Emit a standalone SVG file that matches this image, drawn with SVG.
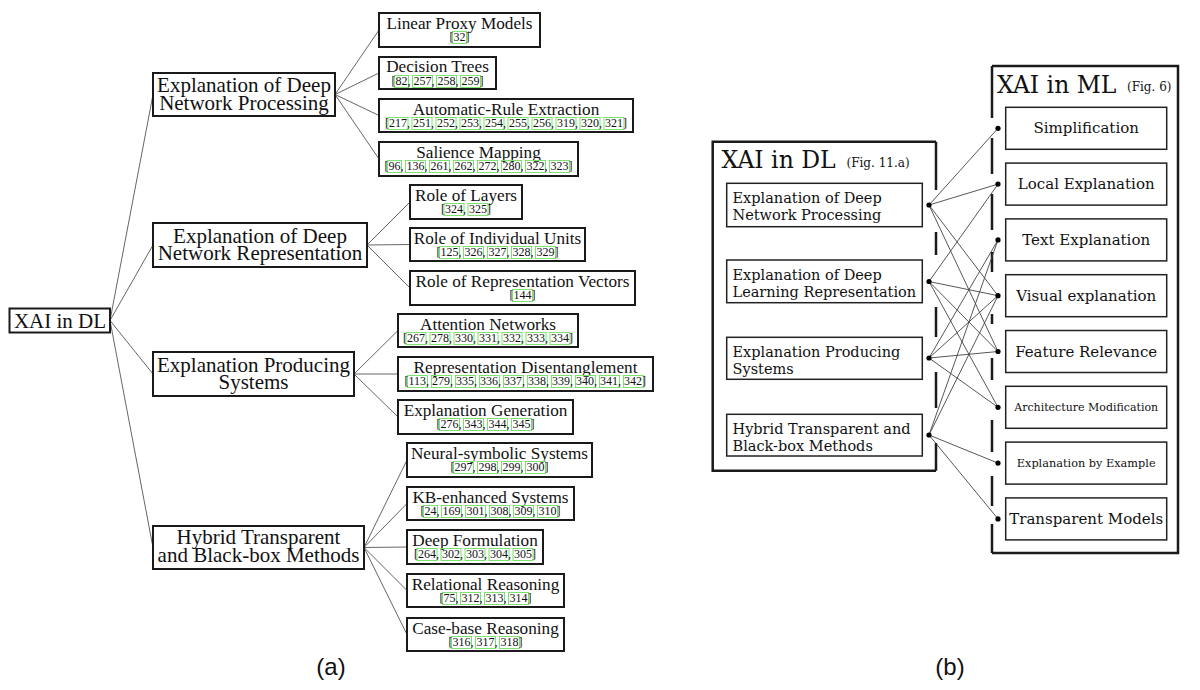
<svg xmlns="http://www.w3.org/2000/svg" width="1200" height="690" viewBox="0 0 1200 690">
<style>
.bg{fill:#fff}
.nb{fill:#fff;stroke:#1a1a1a;stroke-width:2}
.tr{font-family:"Liberation Serif",serif;fill:#111}
.root{font-size:21px;text-anchor:middle}
.br{font-size:21px;text-anchor:middle}
.lt{font-size:17.2px;text-anchor:middle}
.ct{font-size:12px}
.cb{fill:none;stroke:#7be36b;stroke-width:1}
.cn{stroke:#666;stroke-width:1;fill:none}
.cm{font-family:"DejaVu Serif",serif;fill:#111}
.ib{fill:#fff;stroke:#222;stroke-width:1.5}
.ob{fill:none;stroke:#1a1a1a;stroke-width:2.5}
.it{font-size:14.5px}
.mt{font-size:15px;text-anchor:middle}
.big{font-size:23.5px}
.fig{font-size:12px}
.bl{stroke:#444;stroke-width:0.9;fill:none}
.dot{fill:#000}
.lab{font-family:"Liberation Sans",sans-serif;font-size:24px;text-anchor:middle;fill:#111}
</style>
<rect class="bg" x="0" y="0" width="1200" height="690"/>

<!-- ===== Panel (a) connectors ===== -->
<g id="connectors-a">
<line class="cn" x1="110" y1="320.5" x2="153" y2="94.5"/>
<line class="cn" x1="110" y1="320.5" x2="153" y2="245"/>
<line class="cn" x1="110" y1="320.5" x2="153" y2="374"/>
<line class="cn" x1="110" y1="320.5" x2="153" y2="547.5"/>
<line class="cn" x1="335" y1="94.5" x2="379" y2="30"/>
<line class="cn" x1="335" y1="94.5" x2="379" y2="73"/>
<line class="cn" x1="335" y1="94.5" x2="379" y2="115.5"/>
<line class="cn" x1="335" y1="94.5" x2="379" y2="159"/>
<line class="cn" x1="367" y1="245" x2="410" y2="202"/>
<line class="cn" x1="367" y1="245" x2="410" y2="244.5"/>
<line class="cn" x1="367" y1="245" x2="410" y2="288"/>
<line class="cn" x1="354" y1="374" x2="398" y2="330.5"/>
<line class="cn" x1="354" y1="374" x2="398" y2="374"/>
<line class="cn" x1="354" y1="374" x2="398" y2="417"/>
<line class="cn" x1="364" y1="547.5" x2="407" y2="460"/>
<line class="cn" x1="364" y1="547.5" x2="407" y2="503.5"/>
<line class="cn" x1="364" y1="547.5" x2="407" y2="547"/>
<line class="cn" x1="364" y1="547.5" x2="407" y2="590.5"/>
<line class="cn" x1="364" y1="547.5" x2="407" y2="634.5"/>
</g>

<!-- root -->
<g id="root">
<rect class="nb" x="9.5" y="308.5" width="100.5" height="24"/>
<text class="tr root" x="60" y="328">XAI in DL</text>
</g>

<!-- branches -->
<g id="b-processing">
<rect class="nb" x="153" y="73" width="182" height="43"/>
<text class="tr br" x="244" y="92">Explanation of Deep</text>
<text class="tr br" x="244" y="110">Network Processing</text>
</g>
<g id="b-representation">
<rect class="nb" x="153" y="223" width="214" height="44"/>
<text class="tr br" x="260" y="242.5">Explanation of Deep</text>
<text class="tr br" x="260" y="260">Network Representation</text>
</g>
<g id="b-producing">
<rect class="nb" x="153" y="352" width="201" height="44"/>
<text class="tr br" x="253.5" y="371.5">Explanation Producing</text>
<text class="tr br" x="253.5" y="389">Systems</text>
</g>
<g id="b-hybrid">
<rect class="nb" x="153" y="526" width="211" height="43"/>
<text class="tr br" x="258.5" y="544">Hybrid Transparent</text>
<text class="tr br" x="258.5" y="561.5">and Black-box Methods</text>
</g>

<!-- leaves -->
<g id="l-linear-proxy">
<rect class="nb" x="379" y="13" width="161" height="34"/>
<text class="tr lt" x="459.5" y="28.5">Linear Proxy Models</text>
<rect class="cb" x="452.5" y="31.5" width="14" height="12"/>
<text class="tr ct" x="449.5" y="41">[32]</text>
</g>
<g id="l-decision-trees">
<rect class="nb" x="379" y="57" width="117" height="32"/>
<text class="tr lt" x="437.5" y="72">Decision Trees</text>
<rect class="cb" x="394.5" y="75.5" width="14" height="12"/>
<rect class="cb" x="412.5" y="75.5" width="20" height="12"/>
<rect class="cb" x="436.5" y="75.5" width="20" height="12"/>
<rect class="cb" x="460.5" y="75.5" width="20" height="12"/>
<text class="tr ct" x="391.5" y="85">[82, 257, 258, 259]</text>
</g>
<g id="l-rule-extraction">
<rect class="nb" x="379" y="99" width="254" height="33"/>
<text class="tr lt" x="506" y="114.5">Automatic-Rule Extraction</text>
<rect class="cb" x="388" y="117.5" width="20" height="12"/>
<rect class="cb" x="412" y="117.5" width="20" height="12"/>
<rect class="cb" x="436" y="117.5" width="20" height="12"/>
<rect class="cb" x="460" y="117.5" width="20" height="12"/>
<rect class="cb" x="484" y="117.5" width="20" height="12"/>
<rect class="cb" x="508" y="117.5" width="20" height="12"/>
<rect class="cb" x="532" y="117.5" width="20" height="12"/>
<rect class="cb" x="556" y="117.5" width="20" height="12"/>
<rect class="cb" x="580" y="117.5" width="20" height="12"/>
<rect class="cb" x="604" y="117.5" width="20" height="12"/>
<text class="tr ct" x="385" y="127">[217, 251, 252, 253, 254, 255, 256, 319, 320, 321]</text>
</g>
<g id="l-salience">
<rect class="nb" x="379" y="142" width="199" height="34"/>
<text class="tr lt" x="478.5" y="157.5">Salience Mapping</text>
<rect class="cb" x="387.5" y="160.5" width="14" height="12"/>
<rect class="cb" x="405.5" y="160.5" width="20" height="12"/>
<rect class="cb" x="429.5" y="160.5" width="20" height="12"/>
<rect class="cb" x="453.5" y="160.5" width="20" height="12"/>
<rect class="cb" x="477.5" y="160.5" width="20" height="12"/>
<rect class="cb" x="501.5" y="160.5" width="20" height="12"/>
<rect class="cb" x="525.5" y="160.5" width="20" height="12"/>
<rect class="cb" x="549.5" y="160.5" width="20" height="12"/>
<text class="tr ct" x="384.5" y="170">[96, 136, 261, 262, 272, 280, 322, 323]</text>
</g>
<g id="l-layers">
<rect class="nb" x="410" y="185" width="112" height="34"/>
<text class="tr lt" x="466" y="200.5">Role of Layers</text>
<rect class="cb" x="444" y="203.5" width="20" height="12"/>
<rect class="cb" x="468" y="203.5" width="20" height="12"/>
<text class="tr ct" x="441" y="213">[324, 325]</text>
</g>
<g id="l-units">
<rect class="nb" x="410" y="228" width="175" height="33"/>
<text class="tr lt" x="497.5" y="243.5">Role of Individual Units</text>
<rect class="cb" x="439.5" y="246.5" width="20" height="12"/>
<rect class="cb" x="463.5" y="246.5" width="20" height="12"/>
<rect class="cb" x="487.5" y="246.5" width="20" height="12"/>
<rect class="cb" x="511.5" y="246.5" width="20" height="12"/>
<rect class="cb" x="535.5" y="246.5" width="20" height="12"/>
<text class="tr ct" x="436.5" y="256">[125, 326, 327, 328, 329]</text>
</g>
<g id="l-vectors">
<rect class="nb" x="410" y="271" width="225" height="34"/>
<text class="tr lt" x="522.5" y="286.5">Role of Representation Vectors</text>
<rect class="cb" x="512.5" y="289.5" width="20" height="12"/>
<text class="tr ct" x="509.5" y="299">[144]</text>
</g>
<g id="l-attention">
<rect class="nb" x="398" y="314" width="180" height="33"/>
<text class="tr lt" x="488" y="329.5">Attention Networks</text>
<rect class="cb" x="406" y="332.5" width="20" height="12"/>
<rect class="cb" x="430" y="332.5" width="20" height="12"/>
<rect class="cb" x="454" y="332.5" width="20" height="12"/>
<rect class="cb" x="478" y="332.5" width="20" height="12"/>
<rect class="cb" x="502" y="332.5" width="20" height="12"/>
<rect class="cb" x="526" y="332.5" width="20" height="12"/>
<rect class="cb" x="550" y="332.5" width="20" height="12"/>
<text class="tr ct" x="403" y="342">[267, 278, 330, 331, 332, 333, 334]</text>
</g>
<g id="l-disentanglement">
<rect class="nb" x="398" y="357" width="255" height="34"/>
<text class="tr lt" x="525.5" y="372.5">Representation Disentanglement</text>
<rect class="cb" x="407.5" y="375.5" width="20" height="12"/>
<rect class="cb" x="431.5" y="375.5" width="20" height="12"/>
<rect class="cb" x="455.5" y="375.5" width="20" height="12"/>
<rect class="cb" x="479.5" y="375.5" width="20" height="12"/>
<rect class="cb" x="503.5" y="375.5" width="20" height="12"/>
<rect class="cb" x="527.5" y="375.5" width="20" height="12"/>
<rect class="cb" x="551.5" y="375.5" width="20" height="12"/>
<rect class="cb" x="575.5" y="375.5" width="20" height="12"/>
<rect class="cb" x="599.5" y="375.5" width="20" height="12"/>
<rect class="cb" x="623.5" y="375.5" width="20" height="12"/>
<text class="tr ct" x="404.5" y="385">[113, 279, 335, 336, 337, 338, 339, 340, 341, 342]</text>
</g>
<g id="l-generation">
<rect class="nb" x="398" y="400" width="175" height="34"/>
<text class="tr lt" x="485.5" y="415.5">Explanation Generation</text>
<rect class="cb" x="439.5" y="418.5" width="20" height="12"/>
<rect class="cb" x="463.5" y="418.5" width="20" height="12"/>
<rect class="cb" x="487.5" y="418.5" width="20" height="12"/>
<rect class="cb" x="511.5" y="418.5" width="20" height="12"/>
<text class="tr ct" x="436.5" y="428">[276, 343, 344, 345]</text>
</g>
<g id="l-neural-symbolic">
<rect class="nb" x="407" y="443" width="185" height="34"/>
<text class="tr lt" x="499.5" y="458.5">Neural-symbolic Systems</text>
<rect class="cb" x="453.5" y="461.5" width="20" height="12"/>
<rect class="cb" x="477.5" y="461.5" width="20" height="12"/>
<rect class="cb" x="501.5" y="461.5" width="20" height="12"/>
<rect class="cb" x="525.5" y="461.5" width="20" height="12"/>
<text class="tr ct" x="450.5" y="471">[297, 298, 299, 300]</text>
</g>
<g id="l-kb-enhanced">
<rect class="nb" x="407" y="487" width="167" height="33"/>
<text class="tr lt" x="490.5" y="502.5">KB-enhanced Systems</text>
<rect class="cb" x="423.5" y="505.5" width="14" height="12"/>
<rect class="cb" x="441.5" y="505.5" width="20" height="12"/>
<rect class="cb" x="465.5" y="505.5" width="20" height="12"/>
<rect class="cb" x="489.5" y="505.5" width="20" height="12"/>
<rect class="cb" x="513.5" y="505.5" width="20" height="12"/>
<rect class="cb" x="537.5" y="505.5" width="20" height="12"/>
<text class="tr ct" x="420.5" y="515">[24, 169, 301, 308, 309, 310]</text>
</g>
<g id="l-deep-formulation">
<rect class="nb" x="407" y="530" width="136" height="34"/>
<text class="tr lt" x="475" y="545.5">Deep Formulation</text>
<rect class="cb" x="417" y="548.5" width="20" height="12"/>
<rect class="cb" x="441" y="548.5" width="20" height="12"/>
<rect class="cb" x="465" y="548.5" width="20" height="12"/>
<rect class="cb" x="489" y="548.5" width="20" height="12"/>
<rect class="cb" x="513" y="548.5" width="20" height="12"/>
<text class="tr ct" x="414" y="558">[264, 302, 303, 304, 305]</text>
</g>
<g id="l-relational">
<rect class="nb" x="407" y="574" width="157" height="33"/>
<text class="tr lt" x="485.5" y="589.5">Relational Reasoning</text>
<rect class="cb" x="442.5" y="592.5" width="14" height="12"/>
<rect class="cb" x="460.5" y="592.5" width="20" height="12"/>
<rect class="cb" x="484.5" y="592.5" width="20" height="12"/>
<rect class="cb" x="508.5" y="592.5" width="20" height="12"/>
<text class="tr ct" x="439.5" y="602">[75, 312, 313, 314]</text>
</g>
<g id="l-case-base">
<rect class="nb" x="407" y="618" width="157" height="33"/>
<text class="tr lt" x="485.5" y="633.5">Case-base Reasoning</text>
<rect class="cb" x="451.5" y="636.5" width="20" height="12"/>
<rect class="cb" x="475.5" y="636.5" width="20" height="12"/>
<rect class="cb" x="499.5" y="636.5" width="20" height="12"/>
<text class="tr ct" x="448.5" y="646">[316, 317, 318]</text>
</g>

<text class="lab" x="331" y="675">(a)</text>

<!-- ===== Panel (b) ===== -->
<g id="dl-container">
<path class="ob" d="M936,141.7 H712.7 V470.7 H936"/>
<path class="ob" d="M936,141.7 V190 M936,232 V255 M936,307 V337 M936,372 V408 M936,443 V470.7"/>
<text class="cm big" x="721.5" y="168.3">XAI in DL</text>
<text class="cm fig" x="846.5" y="167">(Fig. 11.a)</text>
</g>
<g id="dl-processing">
<rect class="ib" x="726.7" y="183.3" width="195.6" height="43.4"/>
<text class="cm it" x="732.5" y="203">Explanation of Deep</text>
<text class="cm it" x="732.5" y="220">Network Processing</text>
</g>
<g id="dl-representation">
<rect class="ib" x="726.7" y="260" width="195.6" height="42.7"/>
<text class="cm it" x="732.5" y="279.5">Explanation of Deep</text>
<text class="cm it" x="732.5" y="296.5">Learning Representation</text>
</g>
<g id="dl-producing">
<rect class="ib" x="726.7" y="337.3" width="195.6" height="42"/>
<text class="cm it" x="732.5" y="356.5">Explanation Producing</text>
<text class="cm it" x="732.5" y="373.5">Systems</text>
</g>
<g id="dl-hybrid">
<rect class="ib" x="726.7" y="414.3" width="195.6" height="41.7"/>
<text class="cm it" x="732.5" y="433.5">Hybrid Transparent and</text>
<text class="cm it" x="732.5" y="450.5">Black-box Methods</text>
</g>

<g id="ml-container">
<path class="ob" d="M992,66 H1178 V553 H992"/>
<path class="ob" d="M992,66 V118 M992,138 V174 M992,194 V230 M992,252 V272 M992,314 V324 M992,358 V380 M992,420 V452 M992,476 V506 M992,524 V553"/>
<text class="cm big" x="997" y="93">XAI in ML</text>
<text class="cm fig" x="1127" y="91">(Fig. 6)</text>
</g>
<g id="ml-simplification">
<rect class="ib" x="1005.7" y="107.3" width="161" height="42"/>
<text class="cm mt" x="1086.2" y="133.3">Simplification</text>
</g>
<g id="ml-local">
<rect class="ib" x="1005.7" y="163.1" width="161" height="42"/>
<text class="cm mt" x="1086.2" y="189.1">Local Explanation</text>
</g>
<g id="ml-text">
<rect class="ib" x="1005.7" y="218.9" width="161" height="42"/>
<text class="cm mt" x="1086.2" y="244.9">Text Explanation</text>
</g>
<g id="ml-visual">
<rect class="ib" x="1005.7" y="274.7" width="161" height="42"/>
<text class="cm mt" x="1086.2" y="300.7">Visual explanation</text>
</g>
<g id="ml-feature">
<rect class="ib" x="1005.7" y="330.5" width="161" height="42"/>
<text class="cm mt" x="1086.2" y="356.5">Feature Relevance</text>
</g>
<g id="ml-architecture">
<rect class="ib" x="1005.7" y="386.3" width="161" height="42"/>
<text class="cm mt" x="1086.2" y="411.3" style="font-size:11px">Architecture Modification</text>
</g>
<g id="ml-example">
<rect class="ib" x="1005.7" y="442.1" width="161" height="42"/>
<text class="cm mt" x="1086.2" y="467.1" style="font-size:11.3px">Explanation by Example</text>
</g>
<g id="ml-transparent">
<rect class="ib" x="1005.7" y="497.9" width="161" height="42"/>
<text class="cm mt" x="1086.2" y="523.9">Transparent Models</text>
</g>

<g id="connectors-b">
<line class="bl" x1="929" y1="205" x2="998" y2="128.3"/>
<line class="bl" x1="929" y1="205" x2="998" y2="184.1"/>
<line class="bl" x1="929" y1="205" x2="998" y2="295.7"/>
<line class="bl" x1="929" y1="205" x2="998" y2="351.5"/>
<line class="bl" x1="929" y1="281.5" x2="998" y2="184.1"/>
<line class="bl" x1="929" y1="281.5" x2="998" y2="295.7"/>
<line class="bl" x1="929" y1="281.5" x2="998" y2="351.5"/>
<line class="bl" x1="929" y1="281.5" x2="998" y2="407.3"/>
<line class="bl" x1="929" y1="358" x2="998" y2="239.9"/>
<line class="bl" x1="929" y1="358" x2="998" y2="295.7"/>
<line class="bl" x1="929" y1="358" x2="998" y2="351.5"/>
<line class="bl" x1="929" y1="358" x2="998" y2="407.3"/>
<line class="bl" x1="929" y1="435" x2="998" y2="239.9"/>
<line class="bl" x1="929" y1="435" x2="998" y2="295.7"/>
<line class="bl" x1="929" y1="435" x2="998" y2="463.1"/>
<line class="bl" x1="929" y1="435" x2="998" y2="518.9"/>
<circle class="dot" cx="929" cy="205" r="2.6"/>
<circle class="dot" cx="929" cy="281.5" r="2.6"/>
<circle class="dot" cx="929" cy="358" r="2.6"/>
<circle class="dot" cx="929" cy="435" r="2.6"/>
<circle class="dot" cx="998" cy="128.3" r="2.6"/>
<circle class="dot" cx="998" cy="184.1" r="2.6"/>
<circle class="dot" cx="998" cy="239.9" r="2.6"/>
<circle class="dot" cx="998" cy="295.7" r="2.6"/>
<circle class="dot" cx="998" cy="351.5" r="2.6"/>
<circle class="dot" cx="998" cy="407.3" r="2.6"/>
<circle class="dot" cx="998" cy="463.1" r="2.6"/>
<circle class="dot" cx="998" cy="518.9" r="2.6"/>
</g>

<text class="lab" x="950" y="675">(b)</text>
</svg>
